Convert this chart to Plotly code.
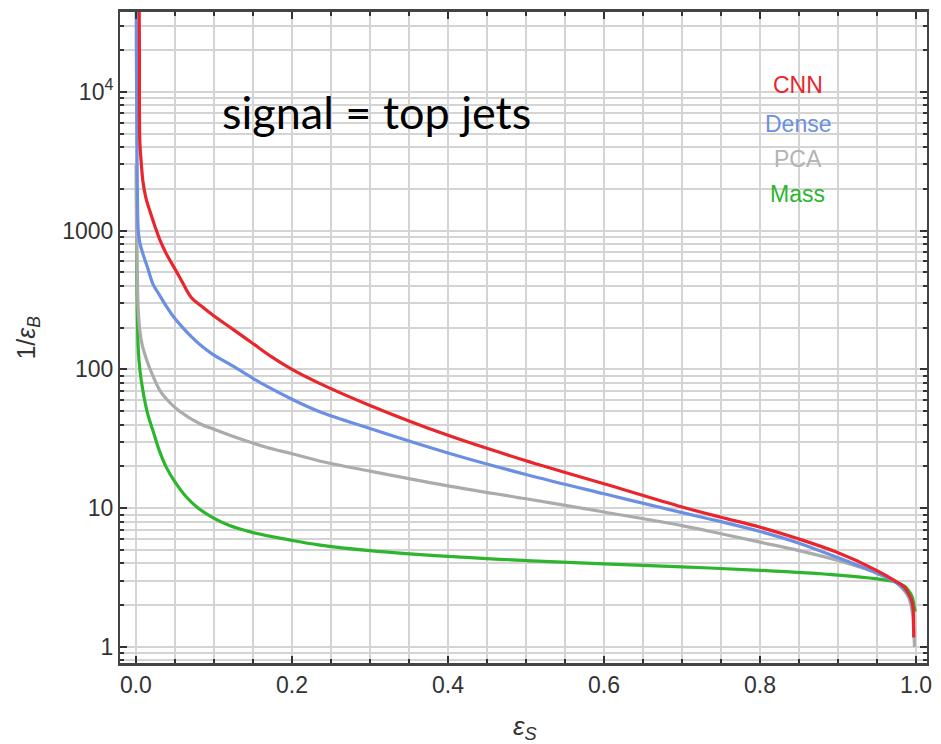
import plotly.graph_objects as go

# ---------------- data ----------------
cnn_x = [0.004, 0.0045, 0.005, 0.007, 0.009, 0.013, 0.018, 0.025, 0.031, 0.039, 0.05, 0.06, 0.071,
         0.085, 0.098, 0.124, 0.149, 0.175, 0.2, 0.234, 0.3, 0.4, 0.5, 0.6, 0.7, 0.75, 0.8, 0.846,
         0.897, 0.948, 0.973, 0.985, 0.99, 0.994, 0.996, 0.997]
cnn_y = [60000, 20000, 4400, 3000, 2260, 1700, 1380, 1050, 850, 680, 530, 420, 330,
         283, 248, 195, 155, 122, 100, 80, 55, 33.5, 22, 15, 10.2, 8.6, 7.3, 6.1,
         4.85, 3.6, 3.0, 2.7, 2.44, 2.2, 1.94, 1.17]

dense_x = [0.0003, 0.0006, 0.001, 0.0015, 0.002, 0.003, 0.005, 0.009, 0.015, 0.022, 0.03, 0.039,
           0.047, 0.06, 0.073, 0.085, 0.098, 0.124, 0.149, 0.167, 0.2, 0.234, 0.3, 0.4, 0.5, 0.6,
           0.7, 0.75, 0.8, 0.85, 0.9, 0.95, 0.975, 0.99, 0.996]
dense_y = [60000, 20000, 8000, 3000, 1600, 1000, 820, 680, 540, 410, 345, 285,
           245, 200, 168, 146, 129, 106, 87, 76, 61, 50, 37.5, 25, 17.5, 12.7,
           9.3, 8.0, 6.8, 5.6, 4.4, 3.4, 2.9, 2.4, 1.9]

pca_x = [0.0002, 0.0005, 0.001, 0.002, 0.003, 0.005, 0.008, 0.014, 0.02, 0.031, 0.043, 0.056,
         0.082, 0.1, 0.124, 0.167, 0.2, 0.234, 0.3, 0.4, 0.5, 0.6, 0.7, 0.75, 0.8, 0.85, 0.9,
         0.95, 0.975, 0.99, 0.995, 0.997, 0.998]
pca_y = [3000, 1500, 800, 400, 265, 190, 150, 116, 95, 70, 58, 50,
         40.6, 37, 33, 27.5, 24.7, 22, 18.5, 14.5, 11.7, 9.4, 7.5, 6.55, 5.7, 4.95, 4.2,
         3.4, 2.9, 2.3, 1.8, 1.3, 1.0]

mass_x = [0.0008, 0.001, 0.0015, 0.002, 0.003, 0.005, 0.009, 0.015, 0.022, 0.03, 0.039, 0.05,
          0.065, 0.08, 0.098, 0.12, 0.149, 0.2, 0.234, 0.3, 0.4, 0.5, 0.6, 0.7, 0.8, 0.9, 0.95,
          0.973, 0.985, 0.99, 0.995, 0.998, 0.999]
mass_y = [890, 600, 350, 220, 140, 100, 70, 48, 36, 26, 19.7, 15.5,
          12, 10, 8.6, 7.5, 6.7, 5.87, 5.45, 4.95, 4.5, 4.2, 3.97, 3.78, 3.57, 3.3, 3.1,
          2.95, 2.75, 2.57, 2.3, 1.9, 1.8]

series_names = ["Mass", "PCA", "Dense", "CNN"]
series_colors = ["#2db52d", "#ababab", "#6b8fe2", "#e8262c"]
series_x = [mass_x, pca_x, dense_x, cnn_x]
series_y = [mass_y, pca_y, dense_y, cnn_y]

legend_order = ["CNN", "Dense", "PCA", "Mass"]
legend_colors = ["#e8262c", "#6b8fe2", "#b3b3b3", "#2db52d"]

x_tickvals = [0.0, 0.2, 0.4, 0.6, 0.8, 1.0]
x_ticktext = ["0.0", "0.2", "0.4", "0.6", "0.8", "1.0"]
x_minor = [0.05, 0.1, 0.15, 0.25, 0.3, 0.35, 0.45, 0.5, 0.55, 0.65, 0.7, 0.75, 0.85, 0.9, 0.95]

y_tickvals = [1, 10, 100, 1000, 10000]
y_ticktext = ["1", "10", "100", "1000", "10<sup>4</sup>"]
y_minor = [0.8, 0.9] + [m * 10 ** k for k in range(0, 5) for m in range(2, 10)]

# ---------------- figure ----------------
fig = go.Figure()
for name, color, xs, ys in zip(series_names, series_colors, series_x, series_y):
    fig.add_trace(go.Scatter(x=xs, y=ys, mode="lines", name=name,
                             line=dict(color=color, width=3.2, shape="spline", smoothing=1.0),
                             showlegend=False))

W, H = 941, 744
L, R, T, B = 120, 9, 10, 81
pw, ph = W - L - R, H - T - B

def px(xp):
    return (xp - L) / pw

def py(yp):
    return (H - B - yp) / ph

tickfont = dict(family="Liberation Sans, Arial, sans-serif", size=23, color="#333333")
gridc = "#d4d4d4"

fig.update_layout(
    width=W, height=H,
    margin=dict(l=L, r=R, t=T, b=B),
    paper_bgcolor="white", plot_bgcolor="white",
    xaxis=dict(range=[-0.0204, 1.014], tickvals=x_tickvals, ticktext=x_ticktext,
               showgrid=True, gridcolor=gridc, gridwidth=1.6,
               ticks="inside", ticklen=7, tickwidth=1.5, tickcolor="#333",
               showline=True, linecolor="#444", linewidth=2.5, mirror="ticks",
               tickfont=tickfont, zeroline=False,
               minor=dict(tickvals=x_minor, showgrid=True, gridcolor=gridc, gridwidth=1.6,
                          ticks="inside", ticklen=4, tickcolor="#333")),
    yaxis=dict(type="log", range=[-0.115, 4.575], tickvals=y_tickvals, ticktext=y_ticktext,
               showgrid=True, gridcolor=gridc, gridwidth=1.6,
               ticks="inside", ticklen=7, tickwidth=1.5, tickcolor="#333",
               showline=True, linecolor="#444", linewidth=2, mirror="ticks",
               tickfont=tickfont, zeroline=False,
               minor=dict(tickvals=y_minor, showgrid=True, gridcolor=gridc, gridwidth=1.6,
                          ticks="inside", ticklen=4, tickcolor="#333")),
)

annotations = [
    dict(text="signal = top jets", x=px(221), y=py(110), xref="paper", yref="paper",
         xanchor="left", yanchor="middle", showarrow=False,
         font=dict(family="Lato, sans-serif", size=45, color="black")),
    dict(text="1/<i>ε</i><sub><i>B</i></sub>", x=px(27), y=py(337), xref="paper", yref="paper",
         xanchor="center", yanchor="middle", showarrow=False, textangle=-90,
         font=dict(family="Liberation Sans, Arial, sans-serif", size=25, color="#333333")),
    dict(text="<i>ε</i><sub><i>S</i></sub>", x=px(528), y=py(728), xref="paper", yref="paper",
         xanchor="center", yanchor="middle", showarrow=False,
         font=dict(family="Liberation Sans, Arial, sans-serif", size=26, color="#333333")),
]
legend_y = [83, 122, 157, 193]
for name, color, yy in zip(legend_order, legend_colors, legend_y):
    annotations.append(dict(text=name, x=px(802), y=py(yy), xref="paper", yref="paper",
                            xanchor="center", yanchor="middle", showarrow=False,
                            font=dict(family="Liberation Sans, Arial, sans-serif", size=23,
                                      color=color)))
fig.update_layout(annotations=annotations)

fig.write_html("out.html")
